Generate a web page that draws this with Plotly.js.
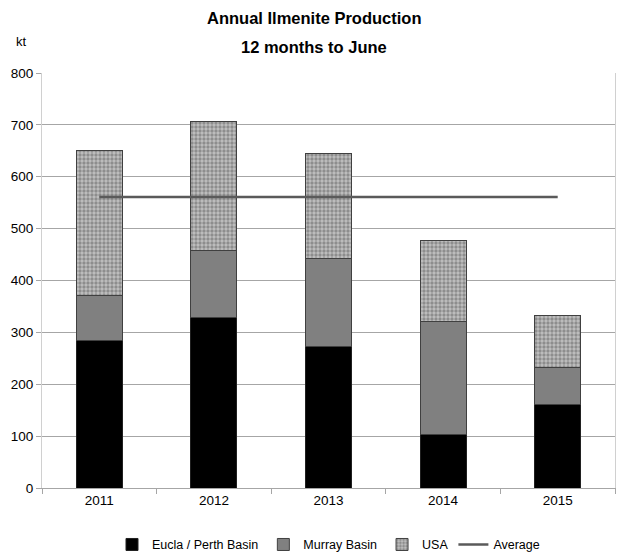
<!DOCTYPE html>
<html>
<head>
<meta charset="utf-8">
<script src="https://cdn.plot.ly/plotly-3.0.1.min.js"></script>
<style>html,body{margin:0;padding:0;background:#fff;}#chart{width:619px;height:559px;}</style>
</head>
<body>
<div id="chart"></div>
<script>
const years = ['2011', '2012', '2013', '2014', '2015'];
const eucla = [285, 328, 272, 104, 161];
const murray = [87, 129, 171, 217, 71];
const usa = [278, 249, 201, 156, 100];
const average = [561, 561, 561, 561, 561];
const yTicks = [0, 100, 200, 300, 400, 500, 600, 700, 800];
const titleLines = ['Annual Ilmenite Production', '12 months to June'];

const FONT = '"Liberation Sans Narrow", "Arial Narrow", "Liberation Sans", Arial, sans-serif';

const traces = [
  {type: 'bar', name: 'Eucla / Perth Basin', x: years, y: eucla,
   marker: {color: '#000000', line: {color: '#202020', width: 1}}},
  {type: 'bar', name: 'Murray Basin', x: years, y: murray,
   marker: {color: '#808080', line: {color: '#404040', width: 1}}},
  {type: 'bar', name: 'USA', x: years, y: usa,
   marker: {color: '#b8b8b8', line: {color: '#404040', width: 1},
            pattern: {shape: '.', bgcolor: '#c0c0c0', fgcolor: '#5a5a5a', size: 4, solidity: 0.55, fillmode: 'overlay'}}},
  {type: 'scatter', mode: 'lines', name: 'Average', x: years, y: average,
   line: {color: '#5a5a5a', width: 2.5}}
];

const layout = {
  width: 619, height: 559,
  margin: {l: 42, r: 4, t: 73, b: 71, autoexpand: false},
  paper_bgcolor: '#ffffff', plot_bgcolor: '#ffffff',
  barmode: 'stack', bargap: 0.6,
  font: {family: FONT, size: 13, color: '#000'},
  xaxis: {type: 'category', showline: true, linecolor: '#a6a6a6', linewidth: 1,
          ticks: 'outside', tickson: 'boundaries', ticklen: 5, tickcolor: '#a6a6a6',
          showgrid: false, tickfont: {family: FONT, size: 13.5}},
  yaxis: {range: [0, 800], tickvals: yTicks, ticktext: yTicks.map(String),
          showline: true, mirror: true, linecolor: '#d0d0d0', linewidth: 1,
          showgrid: true, gridcolor: '#a6a6a6', gridwidth: 1,
          ticks: 'outside', ticklen: 5, tickcolor: '#a6a6a6', zeroline: false,
          tickfont: {family: FONT, size: 13.5}},
  legend: {orientation: 'h', x: 0.5, xanchor: 'center', y: -0.137, yanchor: 'middle',
           font: {family: FONT, size: 12.5}, traceorder: 'normal', itemwidth: 30},
  annotations: [
    {text: '<b>' + titleLines[0] + '</b>', xref: 'paper', yref: 'paper', x: 0.475, y: 1.1325,
     xanchor: 'center', yanchor: 'middle', showarrow: false, font: {family: FONT, size: 16.5}},
    {text: '<b>' + titleLines[1] + '</b>', xref: 'paper', yref: 'paper', x: 0.475, y: 1.063,
     xanchor: 'center', yanchor: 'middle', showarrow: false, font: {family: FONT, size: 16.5}},
    {text: 'kt', xref: 'paper', yref: 'paper', x: -0.035, y: 1.075,
     xanchor: 'center', yanchor: 'middle', showarrow: false, font: {family: FONT, size: 13}}
  ],
  showlegend: true
};

Plotly.newPlot('chart', traces, layout, {displayModeBar: false, staticPlot: true});
</script>
</body>
</html>
